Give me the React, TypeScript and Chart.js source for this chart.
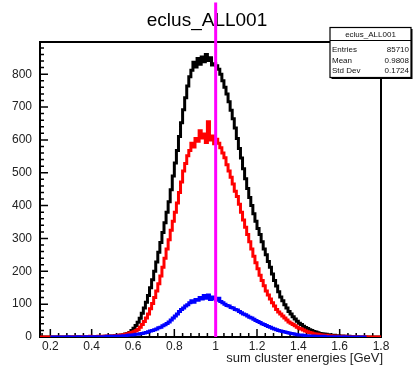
import React, { useEffect, useRef } from 'react';
import { Chart, registerables } from 'chart.js';

Chart.register(...registerables);

const TITLE = 'eclus_ALL001';
const X_TITLE = 'sum cluster energies [GeV]';
const X_MIN = 0.15;
const X_MAX = 1.8;
const Y_MIN = 0;
const Y_MAX = 898;
const BIN_WIDTH = 0.01;
const X_MAJOR = 0.2;
const X_MINOR = 0.04;
const Y_MAJOR = 100;
const Y_MINOR = 20;
const xTickValues = [0.2, 0.4, 0.6, 0.8, 1, 1.2, 1.4, 1.6, 1.8];
const yTickValues = [0, 100, 200, 300, 400, 500, 600, 700, 800];

const blackStart = 0.15;
const blackCounts = [
  0, 0, 0, 0, 0, 0, 0, 0, 0, 0, 0, 0, 0, 0, 0, 0, 0, 0, 0, 0, 0, 0, 0, 0, 0,
  0, 0, 1, 0, 1, 1, 2, 1, 2, 3,
  3, 4, 4, 5, 6, 7, 9, 11, 14, 20,
  27, 35, 45, 57, 72, 88, 106, 126, 150, 174,
  200, 228, 258, 288, 318, 348, 380, 412, 448, 490,
  530, 568, 610, 652, 692, 728, 764, 792, 812, 836,
  822, 848, 830, 852, 838, 860, 842, 850, 828, 832,
  826, 815, 800, 780, 760, 740, 716, 690, 664, 636,
  604, 574, 545, 512, 482, 452, 425, 400, 375, 352,
  330, 312, 290, 268, 250, 230, 212, 192, 172, 155,
  138, 122, 110, 98, 88, 78, 70, 62, 55, 48,
  42, 38, 33, 29, 26, 22, 20, 17, 15, 13,
  11, 10, 9, 8, 7, 6, 5, 5, 4, 4,
  3, 3, 2, 2, 2, 1, 1, 1, 1, 0,
  0, 0, 0, 0, 0, 0, 0, 0, 0, 0,
];

const redStart = 0.15;
const redCounts = [
  0, 0, 0, 0, 0, 0, 0, 0, 0, 0, 0, 0, 0, 1, 0,
  0, 1, 0, 1, 1, 0, 1, 1, 1, 2,
  1, 1, 1, 2, 1, 2, 2, 3, 2, 3,
  3, 4, 4, 5, 6, 7, 8, 10, 12, 14,
  16, 19, 23, 30, 38, 47, 58, 70, 86, 102,
  120, 140, 162, 186, 212, 240, 268, 296, 325, 352,
  380, 408, 440, 472, 505, 528, 552, 568, 590, 578,
  604, 596, 628, 606, 618, 592, 655, 600, 612, 588,
  602, 590, 576, 560, 546, 524, 505, 486, 466, 444,
  428, 404, 380, 356, 334, 312, 290, 268, 246, 226,
  208, 188, 172, 156, 140, 128, 116, 104, 94, 84,
  76, 70, 64, 58, 52, 46, 42, 38, 34, 30,
  27, 24, 21, 18, 16, 14, 12, 10, 9, 8,
  7, 6, 5, 5, 4, 4, 3, 3, 2, 2,
  2, 1, 2, 1, 1, 1, 0, 1, 0, 0,
  0, 0, 1, 0, 0, 0, 0, 0, 0, 0,
];

const blueStart = 0.2;
const blueCounts = [
  0, 0, 0, 0, 0, 0, 0, 0, 1, 0,
  0, 0, 0, 1, 0, 0, 0, 1, 0, 1,
  0, 1, 0, 1, 1, 1, 1, 2, 1, 2,
  2, 2, 3, 3, 3, 4, 4, 5, 6, 6,
  7, 8, 8, 10, 11, 12, 14, 16, 18, 20,
  22, 24, 28, 30, 34, 37, 41, 46, 52, 58,
  64, 70, 78, 84, 88, 94, 98, 104, 110, 106,
  114, 112, 120, 116, 126, 118, 128, 114, 122, 116,
  112, 118, 108, 104, 100, 96, 94, 90, 88, 84,
  82, 78, 74, 70, 68, 64, 60, 58, 54, 50,
  47, 44, 40, 38, 35, 32, 30, 27, 24, 22,
  20, 18, 17, 15, 14, 12, 11, 10, 8, 7,
  6, 6, 5, 4, 4, 3, 3, 3, 2, 2,
  2, 1, 2, 1, 1, 1, 0, 1, 0, 1,
  0, 0, 1, 0, 0, 0, 0, 0, 0, 0,
  0, 0, 0,
];

const markerX = 1.0;
const markerTop = 1018;

const statsTitle = 'eclus_ALL001';
const statsLabels = ['Entries', 'Mean', 'Std Dev'];
const statsValues = ['85710', '0.9808', '0.1724'];

const FONT = '"Liberation Sans", Arial, Helvetica, sans-serif';

function histPoints(start: number, width: number, values: number[]) {
  const pts = values.map((v, i) => ({ x: start + i * width, y: v }));
  pts.push({ x: start + values.length * width, y: values[values.length - 1] });
  return pts;
}

const rootPlugin = {
  id: 'rootDecor',
  beforeDatasetsDraw(chart: any) {
    const { ctx, chartArea: a, scales } = chart;
    const x = scales.x;
    const y = scales.y;
    ctx.save();
    ctx.strokeStyle = '#000';
    ctx.lineWidth = 1.5;
    ctx.beginPath();
    for (let k = Math.ceil(Y_MIN / Y_MINOR); k * Y_MINOR <= Y_MAX; k++) {
      const v = k * Y_MINOR;
      const py = y.getPixelForValue(v);
      const len = v % Y_MAJOR === 0 ? 8 : 4;
      ctx.moveTo(a.left, py);
      ctx.lineTo(a.left + len, py);
    }
    for (let k = Math.ceil(X_MIN / X_MINOR - 1e-9); k * X_MINOR <= X_MAX + 1e-9; k++) {
      const v = k * X_MINOR;
      const px = x.getPixelForValue(v);
      const r = v / X_MAJOR;
      const len = Math.abs(r - Math.round(r)) < 1e-6 ? 8 : 4;
      ctx.moveTo(px, a.bottom);
      ctx.lineTo(px, a.bottom - len);
    }
    ctx.stroke();
    ctx.lineWidth = 2;
    ctx.strokeRect(a.left, a.top, a.right - a.left, a.bottom - a.top);
    ctx.restore();
  },
  afterDraw(chart: any) {
    const { ctx, scales } = chart;
    const x = scales.x;
    const y = scales.y;
    ctx.save();
    // title
    ctx.fillStyle = '#000';
    ctx.font = `19px ${FONT}`;
    ctx.textAlign = 'center';
    ctx.textBaseline = 'alphabetic';
    ctx.fillText(TITLE, 207, 26);
    // x axis title
    ctx.fillStyle = '#222';
    ctx.font = `13px ${FONT}`;
    ctx.textAlign = 'right';
    ctx.fillText(X_TITLE, 383, 362);
    // marker line
    const mx = x.getPixelForValue(markerX);
    ctx.strokeStyle = '#ff00ff';
    ctx.lineWidth = 3;
    ctx.beginPath();
    ctx.moveTo(mx, y.getPixelForValue(0));
    ctx.lineTo(mx, y.getPixelForValue(markerTop));
    ctx.stroke();
    // stats box
    const bx = 330, by = 27.5, bw = 81, bh = 50;
    ctx.fillStyle = '#000';
    ctx.fillRect(bx + 1.5, by + 1.5, bw, bh);
    ctx.fillStyle = '#fff';
    ctx.fillRect(bx, by, bw, bh);
    ctx.strokeStyle = '#000';
    ctx.lineWidth = 1.2;
    ctx.strokeRect(bx, by, bw, bh);
    ctx.beginPath();
    ctx.moveTo(bx, by + 13);
    ctx.lineTo(bx + bw, by + 13);
    ctx.stroke();
    ctx.fillStyle = '#111';
    ctx.font = `8px ${FONT}`;
    ctx.textBaseline = 'middle';
    ctx.textAlign = 'center';
    ctx.fillText(statsTitle, bx + bw / 2, by + 7);
    statsLabels.forEach((lab, i) => {
      const ty = by + 22.5 + i * 10.5;
      ctx.textAlign = 'left';
      ctx.fillText(lab, bx + 2, ty);
      ctx.textAlign = 'right';
      ctx.fillText(statsValues[i], bx + bw - 2, ty);
    });
    ctx.restore();
  },
};

export default function App() {
  const ref = useRef<HTMLCanvasElement>(null);
  useEffect(() => {
    if (!ref.current) return;
    const common = {
      showLine: true,
      stepped: 'before' as const,
      pointRadius: 0,
      borderWidth: 3,
      fill: false,
      borderJoinStyle: 'miter' as const,
    };
    const chart = new Chart(ref.current, {
      type: 'scatter',
      data: {
        datasets: [
          { ...common, label: 'blue', data: histPoints(blueStart, BIN_WIDTH, blueCounts), borderColor: '#0000ff' },
          { ...common, label: 'red', data: histPoints(redStart, BIN_WIDTH, redCounts), borderColor: '#ff0000' },
          { ...common, label: 'black', data: histPoints(blackStart, BIN_WIDTH, blackCounts), borderColor: '#000000' },
        ],
      },
      options: {
        responsive: false,
        animation: false,
        layout: { padding: { left: 0, right: 34, top: 42, bottom: 0 } },
        plugins: { legend: { display: false }, title: { display: false }, tooltip: { enabled: false } },
        scales: {
          x: {
            type: 'linear',
            min: X_MIN,
            max: X_MAX,
            grid: { display: false, drawTicks: false },
            border: { display: false },
            afterBuildTicks: (s: any) => { s.ticks = xTickValues.map((v) => ({ value: v })); },
            ticks: { padding: 2, color: '#222', font: { family: FONT, size: 12 }, maxRotation: 0, autoSkip: false, callback: (v: any) => String(v) },
            afterFit: (s: any) => { s.height = 30; },
          },
          y: {
            type: 'linear',
            min: Y_MIN,
            max: Y_MAX,
            grid: { display: false, drawTicks: false },
            border: { display: false },
            afterBuildTicks: (s: any) => { s.ticks = yTickValues.map((v) => ({ value: v })); },
            ticks: { padding: 8, color: '#222', font: { family: FONT, size: 12 }, autoSkip: false, callback: (v: any) => String(v) },
            afterFit: (s: any) => { s.width = 40; },
          },
        },
      },
      plugins: [rootPlugin],
    } as any);
    return () => chart.destroy();
  }, []);
  return (
    <div style={{ position: 'absolute', left: 0, top: 0, width: 415, height: 367, background: '#fff' }}>
      <canvas ref={ref} width={415} height={367} style={{ display: 'block' }} />
    </div>
  );
}
